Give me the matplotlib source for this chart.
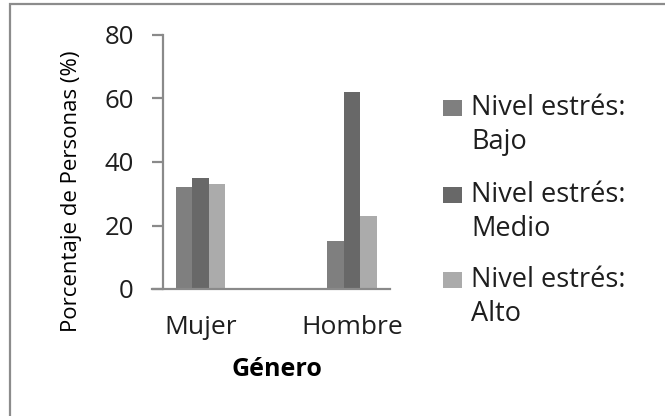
import matplotlib
matplotlib.use("Agg")
import matplotlib.pyplot as plt
from matplotlib.patches import Rectangle
import numpy as np

plt.rcParams['font.family'] = ['Open Sans', 'DejaVu Sans']

# Data
categories = ["Mujer", "Hombre"]
series_names = ["Nivel estrés:\nBajo", "Nivel estrés:\nMedio", "Nivel estrés:\nAlto"]
bajo = [32, 15]
medio = [35, 62]
alto = [33, 23]
yticks = [0, 20, 40, 60, 80]

colors = ["#7f7f7f", "#686868", "#ababab"]
axis_gray = "#8a8a8a"
text_color = "#1e1e1e"

W, H = 665, 416
fig = plt.figure(figsize=(W / 100, H / 100), dpi=100)
fig.patch.set_facecolor("white")

# outer chart frame
fig.add_artist(Rectangle((10 / W, -0.1), 1.2, 1.1 - 4 / H, transform=fig.transFigure,
                         fill=False, edgecolor="#8c8c8c", linewidth=1.6))

ax = fig.add_axes([163 / W, 1 - 289 / H, 227 / W, 254 / H])

x = np.arange(len(categories))
bw = 0.108
for i, (vals, c, name) in enumerate(zip([bajo, medio, alto], colors, series_names)):
    ax.bar(x + (i - 1) * bw, vals, width=bw, color=c, label=name, linewidth=0)

ax.set_xlim(-0.2475, 1.251)
ax.set_ylim(0, 80)
ax.set_yticks(yticks)
ax.set_xticks(x)
ax.set_xticklabels(categories)

for s in ["top", "right"]:
    ax.spines[s].set_visible(False)
for s in ["left", "bottom"]:
    ax.spines[s].set_color(axis_gray)
    ax.spines[s].set_linewidth(1.6)
ax.spines["bottom"].set_bounds(-0.2475 - 11 / 151.5, 1.251)
ax.spines["bottom"].set_clip_on(False)

ax.tick_params(axis="y", direction="out", length=8, width=1.6, color=axis_gray,
               labelsize=18.5, labelcolor=text_color, pad=13)
ax.tick_params(axis="x", length=0, labelsize=19, labelcolor=text_color, pad=19)

ax.set_ylabel("Porcentaje de Personas (%)", fontsize=16, color="black", va="center")
ax.yaxis.set_label_coords(-0.405, 0.386)
ax.set_xlabel("Género", fontsize=18, fontweight="bold", color="black", va="center")
ax.xaxis.set_label_coords(0.5, (289 - 370) / 254)

# legend
line1_y = [108, 195, 280]
for name, c, yc in zip(series_names, colors, line1_y):
    fig.add_artist(Rectangle((443 / W, 1 - (yc + 8) / H), 19 / W, 16 / H,
                             transform=fig.transFigure, facecolor=c, edgecolor="none"))
    first, second = name.split("\n")
    fig.text(471 / W, 1 - yc / H, first, fontsize=19.5, color=text_color, va="center", ha="left")
    fig.text(471 / W, 1 - (yc + 34) / H, second, fontsize=19.5, color=text_color, va="center", ha="left")

fig.savefig("out.png", dpi=100)
